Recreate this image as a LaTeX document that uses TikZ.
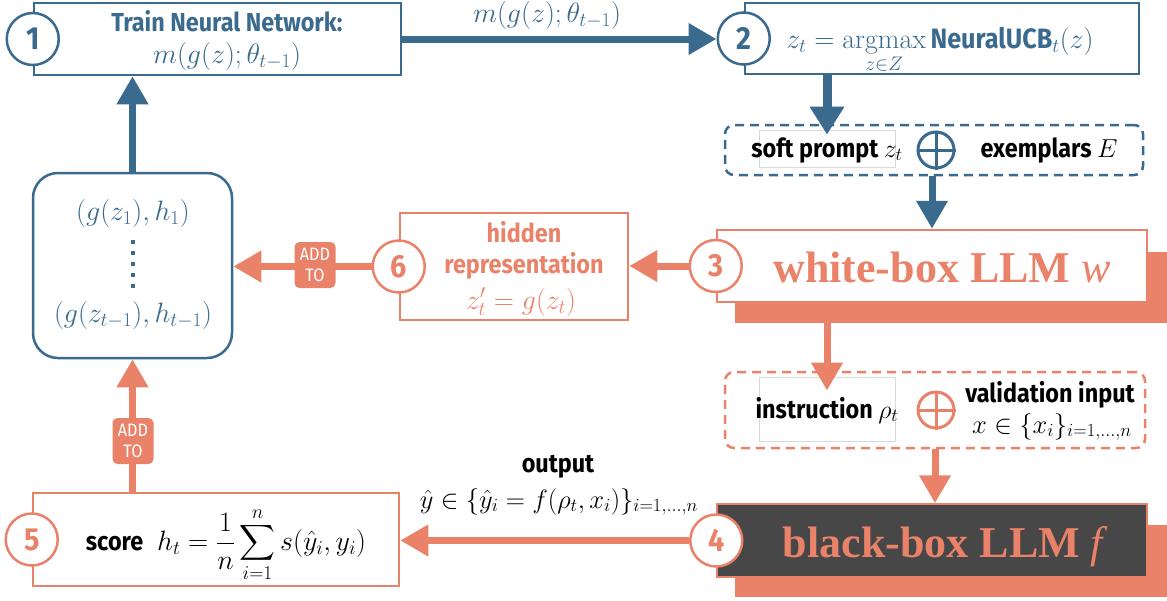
\documentclass[tikz,border=0pt]{standalone}
\usepackage{fix-cm}
\usepackage{amsmath}
\usepackage{fontspec}
\newfontfamily\cond[FakeStretch=0.9]{Fira Sans}
\newfontfamily\tms{Liberation Serif}
\usetikzlibrary{arrows.meta,calc}
\definecolor{cblue}{RGB}{58,106,142}
\definecolor{corange}{RGB}{234,130,106}
\definecolor{cdark}{RGB}{71,71,71}
\newcommand\cb{\cond\bfseries}
\newcommand\numfont{\cond\bfseries\fontsize{32}{32}\selectfont}
\newcommand\labfont{\cond\bfseries\fontsize{26}{29}\selectfont}
\newcommand\badgefont{\cond\fontsize{18}{21}\selectfont}
\newcommand\mathsz{\fontsize{28}{32}\selectfont}
\newcommand\mathsm{\fontsize{26.5}{30}\selectfont}
\newcommand\bigfont{\tms\bfseries\fontsize{44}{46}\selectfont}
\begin{document}
\begin{tikzpicture}[x=1pt,y=-1pt,
  bx/.style={rectangle, line width=2.5pt, fill=white, inner sep=0pt},
  bluebx/.style={bx, draw=cblue},
  orbx/.style={bx, draw=corange},
  numc/.style={circle, fill=white, line width=2.5pt, minimum size=52pt, inner sep=0pt, font=\numfont},
  bnum/.style={numc, draw=cblue, text=cblue},
  onum/.style={numc, draw=corange, text=corange},
  barrow/.style={draw=cblue, line width=7pt, -{Triangle[width=30pt,length=28pt]}},
  oarrow/.style={draw=corange, line width=7pt, -{Triangle[width=30pt,length=28pt]}},
  shadowbx/.style={rectangle, fill=corange, inner sep=0pt},
  dbox/.style={rectangle, rounded corners=9pt, line width=2.5pt, dash pattern=on 9pt off 6pt, inner sep=0pt},
  graybx/.style={rectangle, draw=black!15, line width=0.8pt, inner sep=0pt},
  plus/.style={circle, line width=3pt, minimum size=36pt, inner sep=0pt},
  badge/.style={rectangle, rounded corners=5pt, fill=corange, text=white, minimum width=41pt, minimum height=46pt, inner sep=0pt, align=center, font=\badgefont},
  txt/.style={inner sep=0pt, align=center},
]
\useasboundingbox (0,0) rectangle (1167,600);

% ---- Box 1
\node[bluebx, minimum width=367pt, minimum height=72pt] (b1) at (217.5,39) {};
\node[bnum] (c1) at (b1.west) {1};
\node[txt, anchor=base, text=cblue, font=\labfont] (t1a) at (227,31) {Train Neural Network:};
\node[txt, anchor=base, text=cblue, font=\mathsz] (t1b) at (227,63) {$m(g(z);\theta_{t-1})$};

% ---- Box 2
\node[bluebx, minimum width=394pt, minimum height=71pt] (b2) at (942,38.5) {};
\node[bnum] (c2) at (b2.west) {2};
\node[txt, anchor=base, text=cblue, font=\mathsz] (t2) at (940,48)
  {$z_t=\mathop{\begin{array}[t]{@{}c@{}}\mathrm{argmax}\\[-10pt]\scriptstyle z\in Z\end{array}}\text{\cb NeuralUCB}_t(z)$};

% arrow 1 -> 2
\draw[barrow] (b1.east) -- (b1.east -| c2.west);
\node[txt, anchor=base, text=cblue, font=\mathsz] (l12) at (547,22) {$m(g(z);\theta_{t-1})$};

% ---- blue dashed box
\node[dbox, draw=cblue, minimum width=418pt, minimum height=50pt] (d1) at (934,150) {};
\node[graybx, minimum width=136pt, minimum height=37pt] (sp) at (827,148.5) {};
\node[txt, anchor=base, font=\labfont] (tsp) at (827,157) {soft prompt $z_t$};
\node[plus, draw=cblue] (p1) at (936,150) {};
\draw[cblue, line width=3pt] (p1.north) -- (p1.south) (p1.west) -- (p1.east);
\node[txt, anchor=base, font=\labfont] (tex) at (1049,157) {exemplars $E$};
\draw[barrow, line width=9pt, -{Triangle[width=33pt,length=28pt]}] (b2.south -| sp.north) -- ([yshift=-5pt]sp.north);

% ---- Box 3 (white-box)
\node[shadowbx, minimum width=432pt, minimum height=71pt] (s3) at (951,287.5) {};
\node[orbx, minimum width=430pt, minimum height=72pt] (b3) at (932,266) {};
\node[onum] (c3) at (b3.west) {3};
\node[txt, anchor=base, text=corange, font=\bigfont] (t3) at (942,282) {white-box LLM {\mdseries\itshape w}};
\draw[barrow] (d1.south -| b3.north) -- (b3.north);

% ---- Box 6 (hidden representation)
\node[orbx, minimum width=228pt, minimum height=107pt] (b6) at (514,266.5) {};
\node[onum] (c6) at (b6.west) {6};
\node[txt, anchor=base, text=corange, font=\labfont] (t6a) at (524,242) {hidden};
\node[txt, anchor=base, text=corange, font=\labfont] (t6b) at (524,273) {representation};
\node[txt, anchor=base, text=corange, font=\mathsz] (t6c) at (521,309) {$z'_t=g(z_t)$};
\draw[oarrow] (c3.west) -- (c3.west -| b6.east);

% ---- data box
\node[rectangle, draw=cblue, line width=2.5pt, rounded corners=25pt, fill=white, minimum width=199pt, minimum height=185pt, inner sep=0pt] (db) at (132.5,265.5) {};
\node[txt, anchor=base, text=cblue, font=\mathsz] (tdb1) at (133,220) {$(g(z_1),h_1)$};
\node[txt, anchor=base, text=cblue, font=\mathsz] (tdb2) at (133,322) {$(g(z_{t-1}),h_{t-1})$};
\draw[cblue, line width=4pt, dash pattern=on 4pt off 7pt] (133,240) -- (133,288);
\draw[barrow] (db.north) -- (db.north |- b1.south);
\draw[oarrow] (c6.west) -- (c6.west -| db.east);
\node[badge] (ad1) at (315,265) {ADD\\TO};

% ---- Box 5 (score)
\node[orbx, minimum width=366pt, minimum height=93pt] (b5) at (216,539.5) {};
\node[onum] (c5) at (b5.west) {5};
\node[txt, anchor=base, font=\mathsz] (t5) at (226,550)
  {{\labfont score}\enspace$\displaystyle h_t=\frac{1}{n}\sum_{i=1}^{n}s(\hat{y}_i,y_i)$};
\draw[oarrow] (db.south |- b5.north) -- (db.south);
\node[badge] (ad2) at (133,441) {ADD\\TO};

% ---- orange dashed box
\node[dbox, draw=corange, minimum width=420pt, minimum height=76pt] (d2) at (935,410) {};
\node[graybx, minimum width=136pt, minimum height=64pt] (ins) at (827,409) {};
\node[txt, anchor=base, font=\labfont] (tins) at (827,418) {instruction $\rho_t$};
\node[plus, draw=corange] (p2) at (936,410) {};
\draw[corange, line width=3pt] (p2.north) -- (p2.south) (p2.west) -- (p2.east);
\node[txt, anchor=base, font=\labfont] (tval) at (1050,402) {validation input};
\node[txt, anchor=base, font=\mathsm] (tx) at (1052,433) {$x\in\{x_i\}_{i=1,\dots,n}$};
\draw[oarrow] (s3.south -| ins.north) -- ([yshift=-14pt]ins.north);

% ---- Box 4 (black-box)
\node[shadowbx, minimum width=432pt, minimum height=72pt] (s4) at (951,561) {};
\node[rectangle, fill=cdark, draw=corange, line width=1.5pt, inner sep=0pt, minimum width=430pt, minimum height=73pt] (b4) at (932,540.5) {};
\node[onum] (c4) at (b4.west) {4};
\node[txt, anchor=base, text=corange, font=\bigfont] (t4) at (943,557) {black-box LLM {\mdseries\itshape f}};
\draw[oarrow] (d2.south) -- (d2.south |- b4.north);

% arrow 4 -> 5
\draw[oarrow] (c4.west) -- (c4.west -| b5.east);
\node[txt, anchor=base, font=\labfont] (tout) at (558,472) {output};
\node[txt, anchor=base, font=\mathsm] (tout2) at (559,508) {$\hat{y}\in\{\hat{y}_i=f(\rho_t,x_i)\}_{i=1,\dots,n}$};
\end{tikzpicture}
\end{document}
